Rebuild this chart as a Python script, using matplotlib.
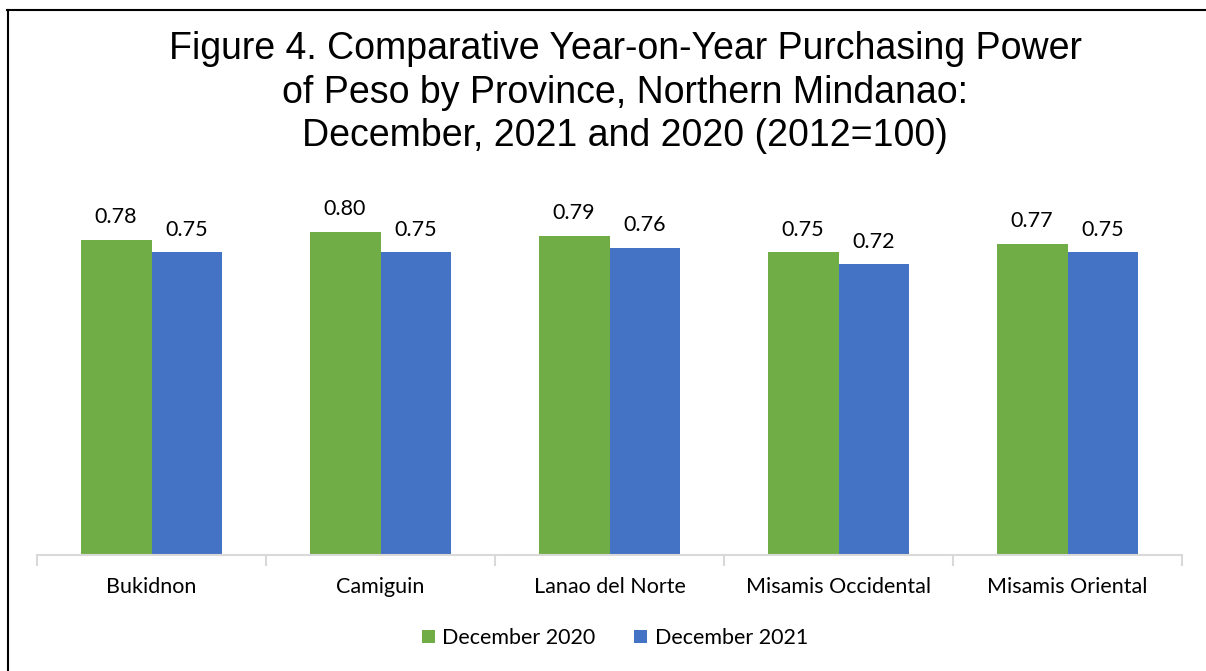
import matplotlib
matplotlib.use("Agg")
import matplotlib.pyplot as plt
import numpy as np

provinces = ["Bukidnon", "Camiguin", "Lanao del Norte", "Misamis Occidental", "Misamis Oriental"]
dec2020 = [0.78, 0.80, 0.79, 0.75, 0.77]
dec2021 = [0.75, 0.75, 0.76, 0.72, 0.75]
series_names = ["December 2020", "December 2021"]
title = ("Figure 4. Comparative Year-on-Year Purchasing Power\n"
         "of Peso by Province, Northern Mindanao:\n"
         "December, 2021 and 2020 (2012=100)")

green = "#70AD47"
blue = "#4472C4"
lab_font = ["Lato", "DejaVu Sans"]
fs = 15.5

W, H = 1206, 671
fig = plt.figure(figsize=(W/100, H/100), dpi=100)
ax = fig.add_axes([37/W, 1-555/H, (1182-37)/W, 404/H])

x = np.arange(len(provinces))
bw = 0.31
b1 = ax.bar(x - bw/2, dec2020, bw, color=green, label=series_names[0])
b2 = ax.bar(x + bw/2, dec2021, bw, color=blue, label=series_names[1])

for bars, vals in ((b1, dec2020), (b2, dec2021)):
    for r, v in zip(bars, vals):
        ax.annotate(f"{v:.2f}", (r.get_x() + r.get_width()/2, v),
                    xytext=(0, 9), textcoords="offset points",
                    ha="center", va="bottom", fontsize=fs, family=lab_font, color="#000000")

ax.set_xlim(-0.5, len(provinces) - 0.5)
ax.set_ylim(0, 1.0)
ax.set_yticks([])
for s in ("top", "right", "left"):
    ax.spines[s].set_visible(False)
ax.spines["bottom"].set_color("#D9D9D9")
ax.spines["bottom"].set_linewidth(1.5)
ax.set_xticks(x)
ax.set_xticklabels(provinces, fontsize=fs, family=lab_font)
ax.tick_params(axis="x", length=0, pad=16)
ax.set_xticks(np.arange(-0.5, len(provinces)), minor=True)
ax.tick_params(axis="x", which="minor", length=8, width=1.5, color="#D9D9D9")

fig.text(625/W, 1-31/H, title, ha="center", va="top", fontsize=27,
         family=["Liberation Sans", "DejaVu Sans"], linespacing=1.27)

leg = fig.legend(handles=[b1, b2], labels=series_names, loc="center",
                 bbox_to_anchor=(615/W, 1-638/H), ncol=2, frameon=False,
                 prop={"family": lab_font, "size": fs}, handlelength=0.6,
                 handleheight=0.6, columnspacing=1.8, handletextpad=0.35)

# border: top and left lines
fig.add_artist(plt.Line2D([7/W, 1.0], [1-10/H, 1-10/H], transform=fig.transFigure, color="black", lw=1.5))
fig.add_artist(plt.Line2D([7.5/W, 7.5/W], [0, 1-10/H], transform=fig.transFigure, color="black", lw=1.5))

fig.savefig("out.png", dpi=100, facecolor="white")
